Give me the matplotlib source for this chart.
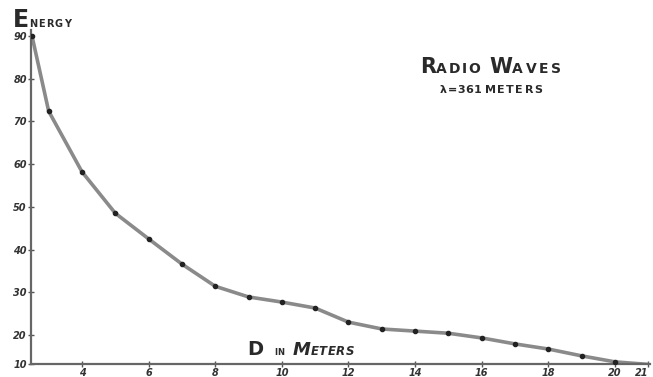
import matplotlib.pyplot as plt
import numpy as np

# distance D in meters, energy
dist = [2.5, 3, 4, 5, 6, 7, 8, 9, 10, 11, 12, 13, 14, 15, 16, 17, 18, 19, 20, 21]
energy = [90, 72.4, 58.2, 48.5, 42.5, 36.6, 31.4, 28.9, 27.7, 26.3, 23.0, 21.4,
          20.9, 20.4, 19.3, 17.9, 16.7, 15.1, 13.7, 13.1]
x_ticks = [4, 6, 8, 10, 12, 14, 16, 18, 20, 21]
y_ticks = [20, 30, 40, 50, 60, 70, 80, 90]
y_bottom = 13.2
y_bottom_label = "10"

W, H = 653, 377
fig = plt.figure(figsize=(W / 100, H / 100), dpi=100)
ax = fig.add_axes([31 / W, 13 / H, 619 / W, 334 / H])

ax.plot(dist, energy, color="#8a8a8a", lw=2.6, solid_capstyle="round", zorder=2)
ax.plot(dist[:-1], energy[:-1], "o", color="#222222", ms=3, zorder=3)

ax.set_xlim(2.47, 21.05)
ax.set_ylim(y_bottom, 91.4)

for s in ["top", "right"]:
    ax.spines[s].set_visible(False)
for s in ["left", "bottom"]:
    ax.spines[s].set_color("#666666")
    ax.spines[s].set_linewidth(1.6)

tick_font = dict(fontsize=7, fontstyle="italic", fontweight="bold", color="#333333")
ax.set_xticks(x_ticks)
ax.set_xticklabels([str(t) for t in x_ticks], **tick_font)
ax.get_xticklabels()[-1].set_ha("right")
ax.set_yticks([y_bottom] + y_ticks)
ax.set_yticklabels([y_bottom_label] + [str(t) for t in y_ticks], **tick_font)
ax.tick_params(axis="both", direction="inout", length=4, width=1, color="#555555", pad=1)

renderer = fig.canvas.get_renderer()


def lettering(x_px, base_px, pieces):
    # pieces: (text, fontsize, letter gap px, word gap after px, style)
    x = x_px
    for txt, size, gap, after, style in pieces:
        for ch in txt:
            t = fig.text(x / W, (H - base_px) / H, ch, fontsize=size, color="#2a2a2a",
                         va="baseline", ha="left", fontstyle=style, fontweight="bold")
            bb = t.get_window_extent(renderer)
            x = bb.x1 + gap
        x += after - gap


lettering(13, 27, [("E", 17, 0.5, 0, "normal"), ("NERGY", 7, 1.2, 0, "normal")])
lettering(247, 355, [("D", 14, 0, 11, "normal"), ("IN", 6, 0.3, 8, "normal"),
                     ("M", 13, 0, 0, "italic"), ("ETERS", 8.5, 0.6, 0, "italic")])
lettering(420, 73, [("R", 15, 0, 0, "normal"), ("ADIO", 10, 1.6, 9, "normal"),
                    ("W", 15, 0, 0, "normal"), ("AVES", 10, 2.8, 0, "normal")])
lettering(440, 93, [("λ=361", 8, 0.5, 3, "normal"), ("METERS", 8, 1.5, 0, "normal")])

fig.savefig("out.png", dpi=100)
